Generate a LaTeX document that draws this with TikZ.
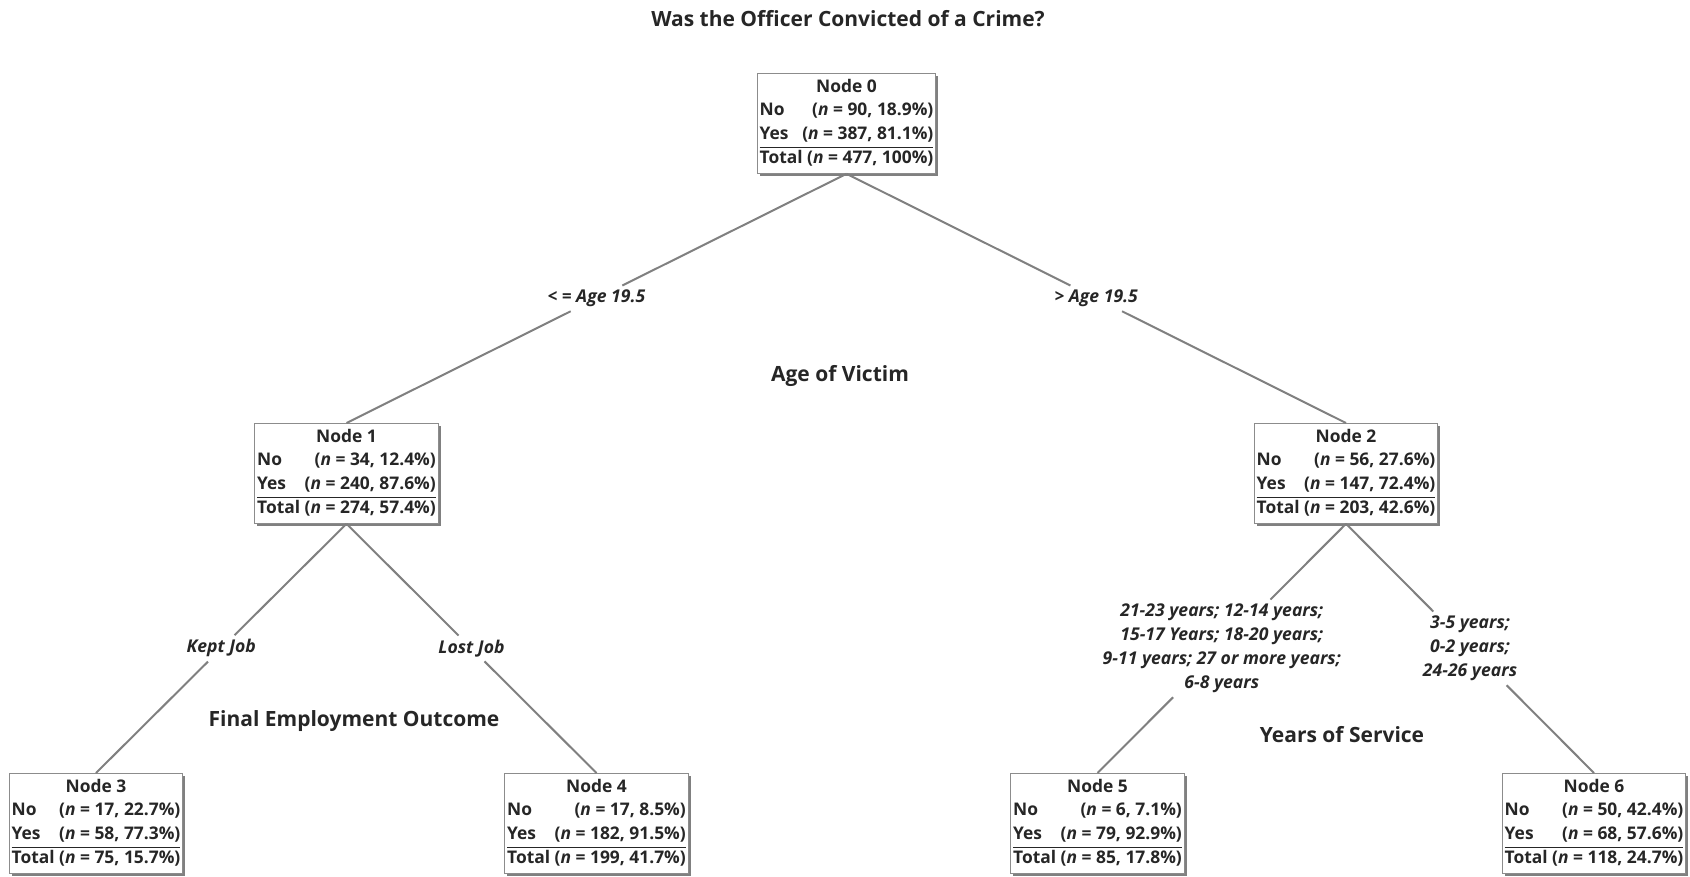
\documentclass[tikz,border=0pt]{standalone}
\usepackage{fontspec}
\setmainfont{Open Sans}
\usetikzlibrary{shadows}
\newcommand{\treebox}[4]{%
  \begin{tabular}{@{}l@{}r@{}}
  \multicolumn{2}{@{}c@{}}{Node #1}\\
  No & (\textit{n} = #2)\\
  Yes & (\textit{n} = #3)\\ \hline
  \multicolumn{2}{@{}l@{}}{Total (\textit{n} = #4)}
  \end{tabular}}
\begin{document}
\begin{tikzpicture}[x=0.5pt,y=-0.5pt,
    every node/.style={text=black!85, font=\fontsize{8.7}{11.8}\selectfont\bfseries},
    tnode/.style={draw=gray!90, fill=white, inner sep=1.2pt, anchor=north,
      drop shadow={shadow xshift=1.2pt, shadow yshift=-1.2pt, fill=gray, opacity=1}},
    split/.style={font=\fontsize{8.8}{12}\selectfont\bfseries\itshape, align=center, inner sep=2pt},
    head/.style={font=\fontsize{10.5}{13}\selectfont\bfseries},
    branch/.style={draw=gray, line width=1pt}]
  \useasboundingbox (0,0) rectangle (1690,877);
  \node[head] (title) at (848,19) {Was the Officer Convicted of a Crime?};
  % boxes
  \node[tnode] (n0) at (846.5,73) {\treebox{0}{90, 18.9\%}{387, 81.1\%}{477, 100\%}};
  \node[tnode] (n1) at (346.5,423) {\treebox{1}{34, 12.4\%}{240, 87.6\%}{274, 57.4\%}};
  \node[tnode] (n2) at (1346,423) {\treebox{2}{56, 27.6\%}{147, 72.4\%}{203, 42.6\%}};
  \node[tnode] (n3) at (96,773) {\treebox{3}{17, 22.7\%}{58, 77.3\%}{75, 15.7\%}};
  \node[tnode] (n4) at (596.5,773) {\treebox{4}{17, 8.5\%}{182, 91.5\%}{199, 41.7\%}};
  \node[tnode] (n5) at (1097.5,773) {\treebox{5}{6, 7.1\%}{79, 92.9\%}{85, 17.8\%}};
  \node[tnode] (n6) at (1594,773) {\treebox{6}{50, 42.4\%}{68, 57.6\%}{118, 24.7\%}};
  % split labels
  \path (n0.south) -- node[split] (s1) {< = Age 19.5} (n1.north);
  \path (n0.south) -- node[split] (s2) {> Age 19.5} (n2.north);
  \path (n1.south) -- node[split] (s3) {Kept Job} (n3.north);
  \path (n1.south) -- node[split] (s4) {Lost Job} (n4.north);
  \path (n2.south) -- node[split] (s5) {21-23 years; 12-14 years;\\15-17 Years; 18-20 years;\\9-11 years; 27 or more years;\\6-8 years} (n5.north);
  \path (n2.south) -- node[split] (s6) {3-5 years;\\0-2 years;\\24-26 years} (n6.north);
  \draw[branch] (n0.south) -- (s1) -- (n1.north);
  \draw[branch] (n0.south) -- (s2) -- (n2.north);
  \draw[branch] (n1.south) -- (s3) -- (n3.north);
  \draw[branch] (n1.south) -- (s4) -- (n4.north);
  \draw[branch] (n2.south) -- (s5) -- (n5.north);
  \draw[branch] (n2.south) -- (s6) -- (n6.north);
  % variable names
  \node[head] (v1) at (840,376) {Age of Victim};
  \node[head] (v2) at (354,721) {Final Employment Outcome};
  \node[head] (v3) at (1342,735) {Years of Service};
\end{tikzpicture}
\end{document}
